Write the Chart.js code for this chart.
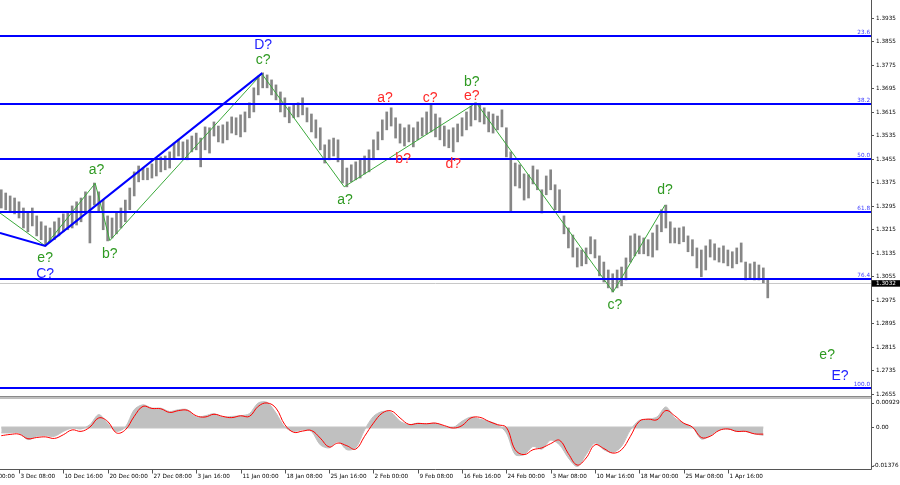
<!DOCTYPE html>
<html>
<head>
<meta charset="utf-8">
<script src="https://cdn.jsdelivr.net/npm/chart.js@4.4.1/dist/chart.umd.min.js"></script>
<style>
  html, body { margin: 0; padding: 0; background: #fff; }
  #wrap { position: relative; width: 900px; height: 485px; }
  canvas { position: absolute; left: 0; top: 0; }
</style>
</head>
<body>
<div id="wrap">
  <canvas id="priceChart" width="900" height="485"></canvas>
  <canvas id="macdChart" width="900" height="485"></canvas>
</div>
<script>
// price bars, one per bar index starting at barStart
const barStart = 6;
const highs = [
  1.3350, 1.3339, 1.3329, 1.3322, 1.3309, 1.3288, 1.3275, 1.3288, 1.3261, 1.3241,
  1.3227, 1.3220, 1.3241, 1.3254, 1.3268, 1.3275, 1.3295, 1.3309, 1.3322, 1.3343,
  1.3329, 1.3373, 1.3343, 1.3315, 1.3261, 1.3254, 1.3275, 1.3288, 1.3315, 1.3356,
  1.3411, 1.3431, 1.3424, 1.3424, 1.3438, 1.3452, 1.3462, 1.3465, 1.3479, 1.3509,
  1.3520, 1.3513, 1.3520, 1.3533, 1.3543, 1.3526, 1.3564, 1.3561, 1.3581, 1.3567,
  1.3571, 1.3581, 1.3598, 1.3595, 1.3605, 1.3615, 1.3646, 1.3697, 1.3737, 1.3748,
  1.3741, 1.3724, 1.3707, 1.3683, 1.3663, 1.3632, 1.3642, 1.3646, 1.3663, 1.3629,
  1.3608, 1.3588, 1.3561, 1.3503, 1.3520, 1.3526, 1.3520, 1.3452, 1.3424, 1.3435,
  1.3445, 1.3452, 1.3465, 1.3486, 1.3520, 1.3547, 1.3588, 1.3615, 1.3629, 1.3595,
  1.3574, 1.3561, 1.3571, 1.3561, 1.3581, 1.3595, 1.3615, 1.3642, 1.3608, 1.3595,
  1.3567, 1.3554, 1.3561, 1.3574, 1.3595, 1.3615, 1.3635, 1.3646, 1.3642, 1.3629,
  1.3615, 1.3608, 1.3601, 1.3622, 1.3561, 1.3479, 1.3441, 1.3435, 1.3404, 1.3401,
  1.3431, 1.3418, 1.3350, 1.3397, 1.3418, 1.3367, 1.3350, 1.3261, 1.3220, 1.3196,
  1.3152, 1.3145, 1.3152, 1.3190, 1.3180, 1.3125, 1.3104, 1.3077, 1.3064, 1.3077,
  1.3087, 1.3118, 1.3193, 1.3200, 1.3193, 1.3186, 1.3180, 1.3203, 1.3230, 1.3282,
  1.3298, 1.3241, 1.3220, 1.3220, 1.3224, 1.3193, 1.3180, 1.3152, 1.3145, 1.3159,
  1.3180, 1.3166, 1.3152, 1.3159, 1.3145, 1.3139, 1.3152, 1.3169, 1.3104, 1.3098,
  1.3104, 1.3094, 1.3084, 1.3043
];
const lows = [
  1.3288, 1.3282, 1.3275, 1.3268, 1.3254, 1.3220, 1.3207, 1.3227, 1.3193, 1.3180,
  1.3159, 1.3173, 1.3180, 1.3193, 1.3207, 1.3214, 1.3220, 1.3230, 1.3241, 1.3275,
  1.3169, 1.3298, 1.3275, 1.3214, 1.3176, 1.3186, 1.3200, 1.3220, 1.3241, 1.3282,
  1.3329, 1.3377, 1.3384, 1.3384, 1.3390, 1.3397, 1.3411, 1.3418, 1.3424, 1.3458,
  1.3465, 1.3458, 1.3452, 1.3479, 1.3486, 1.3428, 1.3486, 1.3475, 1.3533, 1.3513,
  1.3509, 1.3520, 1.3543, 1.3537, 1.3530, 1.3547, 1.3595, 1.3615, 1.3673, 1.3697,
  1.3697, 1.3673, 1.3656, 1.3615, 1.3598, 1.3578, 1.3595, 1.3598, 1.3605, 1.3581,
  1.3547, 1.3526, 1.3486, 1.3441, 1.3452, 1.3465, 1.3445, 1.3373, 1.3360, 1.3377,
  1.3384, 1.3390, 1.3404, 1.3411, 1.3452, 1.3486, 1.3520, 1.3554, 1.3567, 1.3526,
  1.3509, 1.3499, 1.3513, 1.3496, 1.3520, 1.3533, 1.3540, 1.3547, 1.3530, 1.3520,
  1.3499, 1.3493, 1.3479, 1.3513, 1.3533, 1.3554, 1.3567, 1.3588, 1.3581, 1.3574,
  1.3547, 1.3543, 1.3554, 1.3564, 1.3462, 1.3275, 1.3363, 1.3356, 1.3315, 1.3322,
  1.3370, 1.3350, 1.3271, 1.3333, 1.3350, 1.3282, 1.3275, 1.3200, 1.3152, 1.3121,
  1.3087, 1.3091, 1.3098, 1.3132, 1.3118, 1.3057, 1.3036, 1.3016, 1.3002, 1.3016,
  1.3023, 1.3043, 1.3104, 1.3125, 1.3132, 1.3132, 1.3125, 1.3121, 1.3145, 1.3207,
  1.3220, 1.3169, 1.3169, 1.3166, 1.3173, 1.3139, 1.3125, 1.3084, 1.3054, 1.3077,
  1.3121, 1.3111, 1.3104, 1.3101, 1.3091, 1.3084, 1.3098, 1.3104, 1.3043, 1.3047,
  1.3043, 1.3043, 1.3033, 1.2982
];

// MACD, sampled every second bar from macdStart
const macdStart = 6;
const macdHist = [
  -0.0018, -0.0018, -0.0018, -0.0040, -0.0029, -0.0027, -0.0029, -0.0013, -0.0002, -0.0005,
  0.0009, 0.0042, 0.0014, -0.0013, 0.0001, 0.0058, 0.0074, 0.0063, 0.0063, 0.0052,
  0.0058, 0.0058, 0.0034, 0.0038, 0.0045, 0.0034, 0.0036, 0.0038, 0.0045, 0.0080,
  0.0082, 0.0047, 0.0001, -0.0013, -0.0008, -0.0013, -0.0057, -0.0067, -0.0046, -0.0073,
  -0.0067, -0.0008, 0.0036, 0.0052, 0.0049, 0.0020, 0.0009, 0.0014, 0.0011, 0.0014,
  0.0003, 0.0000, 0.0020, 0.0034, 0.0027, 0.0020, 0.0009, -0.0018, -0.0089, -0.0089,
  -0.0062, -0.0071, -0.0042, -0.0057, -0.0100, -0.0128, -0.0089, -0.0051, -0.0073, -0.0082,
  -0.0062, -0.0008, 0.0023, 0.0027, 0.0034, 0.0067, 0.0031, 0.0014, 0.0001, -0.0038,
  -0.0027, -0.0008, -0.0005, -0.0013, -0.0013, -0.0021, -0.0026
];
const macdSignal = [
  -0.0027, -0.0023, -0.0022, -0.0037, -0.0033, -0.0031, -0.0036, -0.0024, -0.0008, -0.0013,
  0.0001, 0.0031, 0.0020, -0.0018, -0.0008, 0.0036, 0.0069, 0.0062, 0.0061, 0.0049,
  0.0055, 0.0056, 0.0038, 0.0034, 0.0043, 0.0036, 0.0032, 0.0038, 0.0036, 0.0069,
  0.0080, 0.0063, 0.0009, -0.0016, -0.0012, -0.0010, -0.0035, -0.0064, -0.0051, -0.0060,
  -0.0071, -0.0029, 0.0014, 0.0047, 0.0054, 0.0031, 0.0010, 0.0013, 0.0012, 0.0014,
  0.0006, -0.0002, 0.0006, 0.0031, 0.0033, 0.0020, 0.0009, 0.0000, -0.0073, -0.0089,
  -0.0073, -0.0067, -0.0053, -0.0042, -0.0086, -0.0123, -0.0100, -0.0057, -0.0069, -0.0084,
  -0.0073, -0.0029, 0.0020, 0.0027, 0.0025, 0.0055, 0.0038, 0.0014, 0.0001, -0.0033,
  -0.0029, -0.0010, -0.0005, -0.0013, -0.0013, -0.0021, -0.0022
];

// axes
const priceTicks = [1.3935, 1.3855, 1.3775, 1.3695, 1.3615, 1.3535, 1.3455, 1.3375, 1.3295,
  1.3215, 1.3135, 1.3055, 1.2975, 1.2895, 1.2815, 1.2735, 1.2655];
const macdTicks = [0.00929, 0.0, -0.01376];
const macdTickText = ["0.00929", "0.00", "-0.01376"];
const timeTicks = [0, 10, 20, 30, 40, 50, 60, 70, 80, 90, 100, 110, 120, 130, 140, 150, 160, 170];
const timeLabels = ["26 Nov 00:00", "3 Dec 08:00", "10 Dec 16:00", "20 Dec 00:00", "27 Dec 08:00",
  "3 Jan 16:00", "11 Jan 00:00", "18 Jan 08:00", "25 Jan 16:00", "2 Feb 00:00", "9 Feb 08:00",
  "16 Feb 16:00", "24 Feb 00:00", "3 Mar 08:00", "10 Mar 16:00", "18 Mar 00:00", "25 Mar 08:00",
  "1 Apr 16:00"];
const lastPrice = 1.3032;

// fibonacci levels
const fibLevels = [1.3874, 1.3643, 1.3456, 1.3274, 1.3046, 1.2674];
const fibNames = ["23.6", "38.2", "50.0", "61.8", "76.4", "100.0"];

// wave lines (bar index, price)
const waveX = [5.7, 15.9, 27.2, 30.5, 64.8, 83.4, 113.2, 144.1, 155.8];
const waveY = [1.3271, 1.3159, 1.3372, 1.3177, 1.3745, 1.3360, 1.3646, 1.3002, 1.3298];
const trendX = [5.7, 15.9, 64.9];
const trendY = [1.3203, 1.3159, 1.3747];

// wave marks
const markText = ["D?", "c?", "a?", "b?", "e?", "C?", "a?", "c?", "e?", "b?", "b?", "d?", "a?", "d?", "c?", "e?", "E?"];
const markX = [65.1, 65.1, 27.5, 30.5, 15.9, 15.9, 92.6, 102.8, 112.2, 112.2, 96.7, 108.0, 83.6, 155.8, 144.5, 192.4, 195.3];
const markY = [1.3843, 1.3792, 1.3418, 1.3132, 1.3118, 1.3064, 1.3663, 1.3663, 1.3670, 1.3718, 1.3454, 1.3438, 1.3315, 1.3350, 1.2958, 1.2788, 1.2716];
const markKind = ["blue", "green", "green", "green", "green", "blue", "red", "red", "red", "green", "red", "red", "green", "green", "green", "green", "blue"];

const markColors = { blue: "#2323ff", green: "#2f9a22", red: "#ff2a2a" };
const axisFont = "5.7px 'DejaVu Sans'";
const xMin = 5.71, xMax = 202.3;

const priceDecor = {
  id: "priceDecor",
  beforeDatasetsDraw(chart) {
    const { ctx, chartArea, scales: { y } } = chart;
    const py = Math.round(y.getPixelForValue(lastPrice)) + 0.5;
    ctx.save();
    ctx.strokeStyle = "#c8c8c8";
    ctx.lineWidth = 1;
    ctx.beginPath();
    ctx.moveTo(chartArea.left, py);
    ctx.lineTo(chartArea.right, py);
    ctx.stroke();
    ctx.restore();
  },
  afterDatasetsDraw(chart) {
    const { ctx, chartArea, scales: { x, y } } = chart;
    ctx.save();
    // fib lines
    fibLevels.forEach((lv, k) => {
      const py = Math.round(y.getPixelForValue(lv));
      ctx.fillStyle = "#0000ff";
      ctx.fillRect(chartArea.left, py - 1, chartArea.right - chartArea.left, 2);
      ctx.font = axisFont;
      ctx.fillStyle = "#3a3aff";
      ctx.textAlign = "right";
      ctx.textBaseline = "bottom";
      ctx.fillText(fibNames[k], chartArea.right - 1, py - 1);
    });
    // wave marks
    ctx.font = "14px 'Liberation Sans'";
    ctx.textAlign = "center";
    ctx.textBaseline = "middle";
    markText.forEach((t, k) => {
      ctx.fillStyle = markColors[markKind[k]];
      ctx.fillText(t, x.getPixelForValue(markX[k]), y.getPixelForValue(markY[k]));
    });
    ctx.restore();
  },
  afterDraw(chart) {
    const { ctx, chartArea, scales: { y } } = chart;
    const ax = chartArea.right;
    ctx.save();
    ctx.font = axisFont;
    ctx.textAlign = "left";
    ctx.textBaseline = "middle";
    ctx.strokeStyle = "#555";
    ctx.fillStyle = "#000";
    ctx.lineWidth = 1;
    priceTicks.forEach((v) => {
      const py = Math.round(y.getPixelForValue(v)) + 0.5;
      ctx.beginPath();
      ctx.moveTo(ax, py);
      ctx.lineTo(ax + 3, py);
      ctx.stroke();
      ctx.fillText(v.toFixed(4), ax + 5, py);
    });
    // last price box
    const lp = y.getPixelForValue(lastPrice);
    ctx.fillStyle = "#000";
    ctx.fillRect(ax + 1, lp - 3, 900 - ax - 1, 6.5);
    ctx.fillStyle = "#fff";
    ctx.fillText(lastPrice.toFixed(4), ax + 5, lp + 0.3);
    // panel separator
    ctx.fillStyle = "#8a8a8a";
    ctx.fillRect(0, chartArea.bottom, ax, 1.5);
    ctx.fillStyle = "#bdbdbd";
    ctx.fillRect(0, chartArea.bottom + 1.5, ax, 1.5);
    ctx.restore();
  }
};

const macdDecor = {
  id: "macdDecor",
  beforeDatasetsDraw(chart) {
    const { ctx, scales: { x, y } } = chart;
    const py = y.getPixelForValue(0);
    ctx.save();
    ctx.strokeStyle = "#c4c4c4";
    ctx.lineWidth = 2;
    ctx.beginPath();
    ctx.moveTo(x.getPixelForValue(macdStart), py);
    ctx.lineTo(x.getPixelForValue(macdStart + 2 * (macdHist.length - 1)), py);
    ctx.stroke();
    ctx.restore();
  },
  afterDraw(chart) {
    const { ctx, chartArea, scales: { x, y } } = chart;
    const ax = chartArea.right;
    const bottom = chartArea.bottom;
    ctx.save();
    ctx.strokeStyle = "#555";
    ctx.lineWidth = 1;
    // right axis line over both panels
    ctx.beginPath();
    ctx.moveTo(ax + 0.5, 0);
    ctx.lineTo(ax + 0.5, bottom);
    ctx.stroke();
    // bottom border
    ctx.beginPath();
    ctx.moveTo(0, bottom);
    ctx.lineTo(ax + 0.5, bottom);
    ctx.stroke();
    // time axis
    ctx.font = axisFont;
    ctx.fillStyle = "#000";
    ctx.textAlign = "left";
    ctx.textBaseline = "middle";
    timeTicks.forEach((t, k) => {
      const px = Math.round(x.getPixelForValue(t)) + 0.5;
      ctx.beginPath();
      ctx.moveTo(px, bottom);
      ctx.lineTo(px, bottom + 4);
      ctx.stroke();
      ctx.fillText(timeLabels[k], px + 1, bottom + 7.5);
    });
    // macd scale labels
    macdTicks.forEach((v, k) => {
      let py = y.getPixelForValue(v);
      const ty = k === 0 ? py + 3.5 : (k === 2 ? py - 3.5 : py);
      ctx.beginPath();
      ctx.moveTo(ax, Math.round(ty) + 0.5);
      ctx.lineTo(ax + 3, Math.round(ty) + 0.5);
      ctx.stroke();
      ctx.fillText(macdTickText[k], ax + (k === 2 ? 2 : 5), ty);
    });
    ctx.restore();
  }
};

new Chart(document.getElementById("priceChart"), {
  type: "bar",
  data: {
    datasets: [
      {
        type: "line",
        data: trendX.map((v, k) => ({ x: v, y: trendY[k] })),
        borderColor: "#0000ff",
        borderWidth: 2,
        pointRadius: 0,
        order: 1
      },
      {
        type: "line",
        data: waveX.map((v, k) => ({ x: v, y: waveY[k] })),
        borderColor: "#3aa83a",
        borderWidth: 1,
        pointRadius: 0,
        order: 2
      },
      {
        type: "bar",
        data: highs.map((h, k) => ({ x: barStart + k, y: [lows[k], h] })),
        backgroundColor: "#868686",
        borderWidth: 0,
        barThickness: 2,
        order: 3
      }
    ]
  },
  options: {
    responsive: false,
    animation: false,
    devicePixelRatio: 1,
    events: [],
    layout: { padding: { left: 0, right: 29, top: 0, bottom: 89 } },
    plugins: { legend: { display: false }, tooltip: { enabled: false } },
    scales: {
      x: { type: "linear", min: xMin, max: xMax, offset: false, display: false },
      y: { min: 1.2648, max: 1.3996, display: false }
    }
  },
  plugins: [priceDecor]
});

new Chart(document.getElementById("macdChart"), {
  type: "line",
  data: {
    datasets: [
      {
        data: macdSignal.map((v, k) => ({ x: macdStart + 2 * k, y: v })),
        borderColor: "#ff0000",
        borderWidth: 1,
        pointRadius: 0,
        tension: 0.4,
        fill: false
      },
      {
        data: macdHist.map((v, k) => ({ x: macdStart + 2 * k, y: v })),
        borderColor: "#c0c0c0",
        backgroundColor: "#c0c0c0",
        borderWidth: 1,
        pointRadius: 0,
        tension: 0.3,
        fill: "origin"
      }
    ]
  },
  options: {
    responsive: false,
    animation: false,
    devicePixelRatio: 1,
    events: [],
    layout: { padding: { left: 0, right: 29, top: 399, bottom: 15.5 } },
    plugins: { legend: { display: false }, tooltip: { enabled: false } },
    scales: {
      x: { type: "linear", min: xMin, max: xMax, offset: false, display: false },
      y: { min: -0.01376, max: 0.00929, display: false }
    }
  },
  plugins: [macdDecor]
});
</script>
</body>
</html>
